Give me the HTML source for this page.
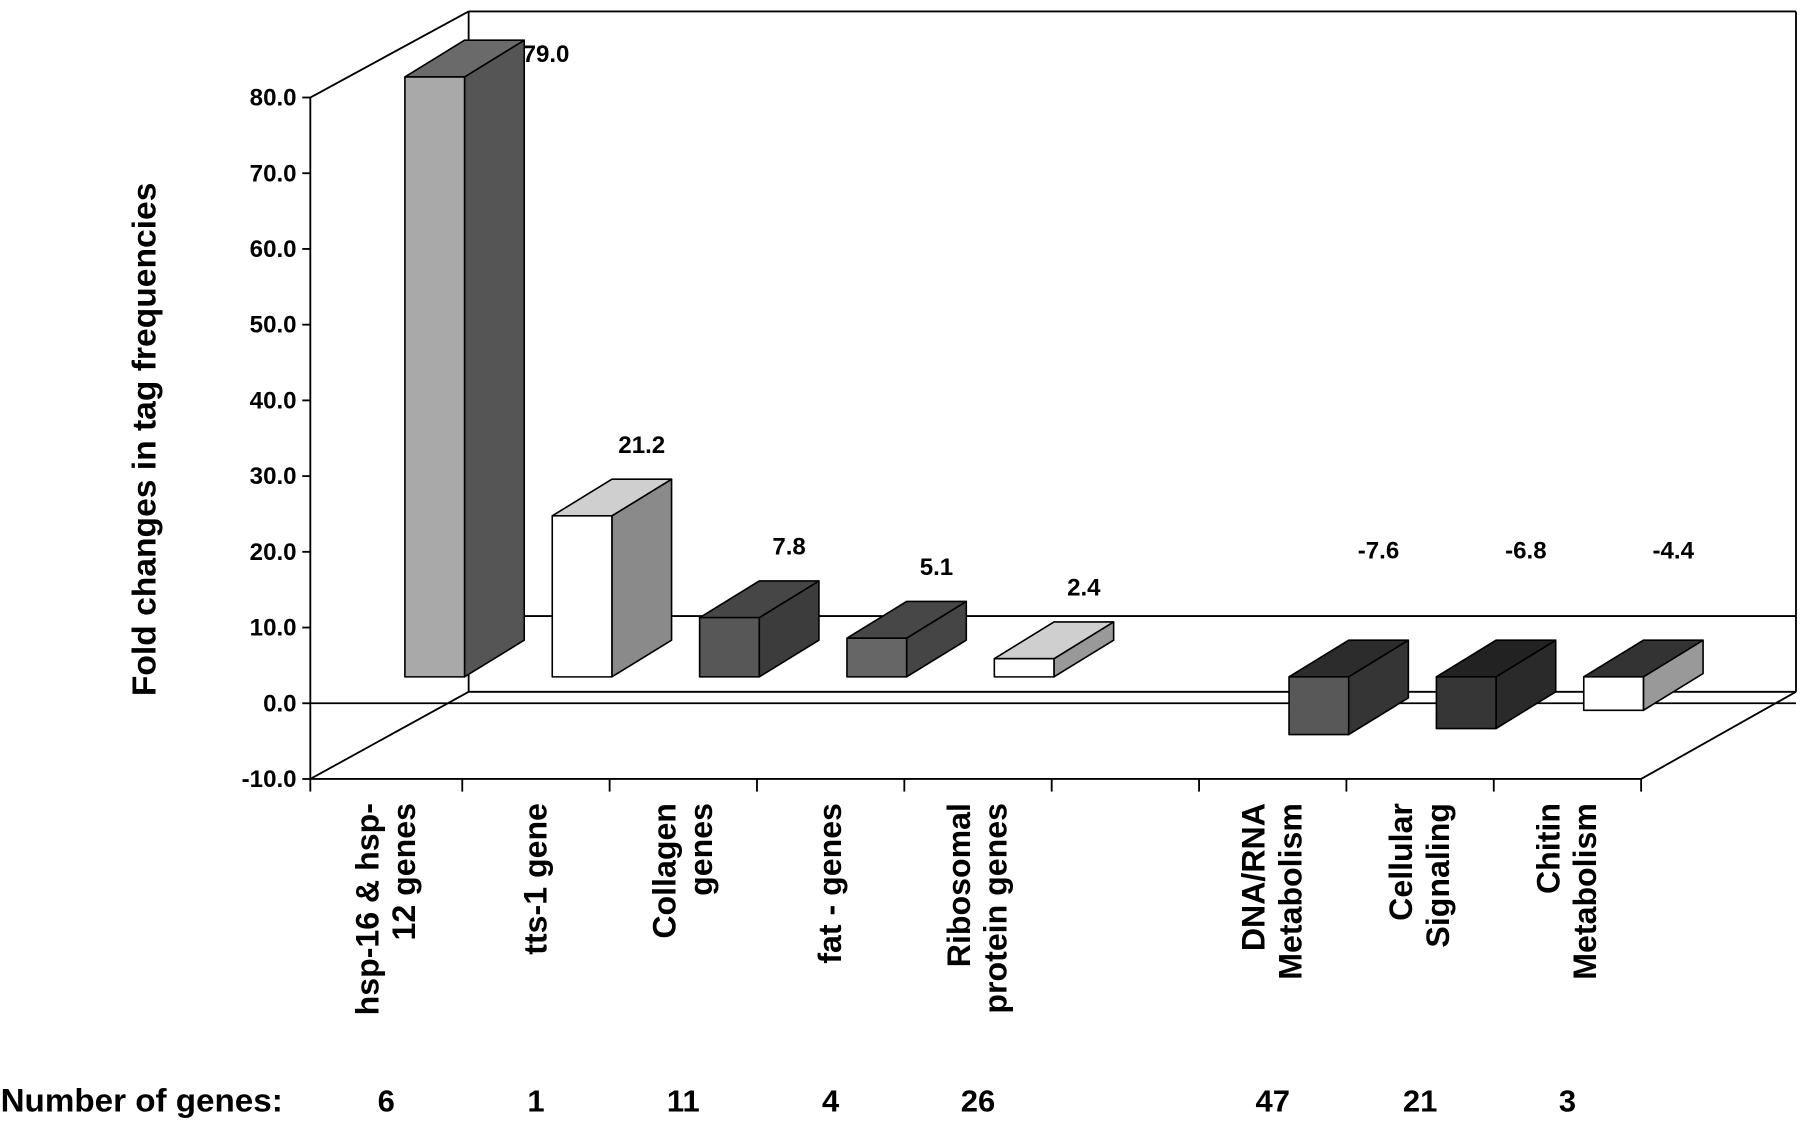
<!DOCTYPE html>
<html><head><meta charset="utf-8"><style>
html,body{margin:0;padding:0;background:#fff}
svg{display:block}
text{font-family:"Liberation Sans",Arial,sans-serif;font-weight:bold;fill:#000}
</style></head><body>
<svg id="chart" width="1800" height="1122" viewBox="0 0 1568 978" xmlns="http://www.w3.org/2000/svg">
<g id="frame" stroke="#000" stroke-width="1.6" fill="none"></g>
<g id="axis"></g>
<g id="bars"></g>
<g id="labels"></g>
<text transform="translate(135,383) rotate(-90)" text-anchor="middle" font-size="29.3">Fold changes in tag frequencies</text>
<text x="0" y="969" font-size="28" textLength="246" lengthAdjust="spacingAndGlyphs">Number of genes:</text>
</svg>
<script>
const categories=[["hsp-16 & hsp-","12 genes"],["tts-1 gene"],["Collagen","genes"],["fat - genes"],["Ribosomal","protein genes"],null,["DNA/RNA","Metabolism"],["Cellular","Signaling"],["Chitin","Metabolism"]];
const values=[79.0,21.2,7.8,5.1,2.4,null,-7.6,-6.8,-4.4];
const valueLabels=["79.0","21.2","7.8","5.1","2.4",null,"-7.6","-6.8","-4.4"];
const geneCounts=["6","1","11","4","26",null,"47","21","3"];
const yTicks=[-10,0,10,20,30,40,50,60,70,80];
const yTickLabels=["-10.0","0.0","10.0","20.0","30.0","40.0","50.0","60.0","70.0","80.0"];

const NS="http://www.w3.org/2000/svg";
function el(tag,attrs,parent){const e=document.createElementNS(NS,tag);for(const k in attrs)e.setAttribute(k,attrs[k]);parent.appendChild(e);return e;}
const X0=274,slot=(1430-274)/9;
function yFront(v){return 613-v*6.6;}
function yBar(v){return 590-v*6.62;}
function xTick(i){return i===0?270:X0+i*slot;}

const frame=document.getElementById('frame');
const segs=[[270,679,1430,679],[270,85,270,679],[270,85,408,10],[408,10,1565,10],[1565,10,1565,603],[408,10,408,603],[408,603,1565,603],[270,679,408,603],[1430,679,1565,603],[270,613,1565,613],[408,537,1565,537]];
segs.forEach(s=>{const l=el('line',{x1:s[0],y1:s[1],x2:s[2],y2:s[3]},frame);

});

const axis=document.getElementById('axis');
yTicks.forEach((t,i)=>{const y=yFront(t);
const tk=el('line',{x1:263,y1:y,x2:270,y2:y,stroke:'#000','stroke-width':1.6},axis);


const tx=el('text',{x:258,y:y+7,'text-anchor':'end','font-size':21},axis);tx.textContent=yTickLabels[i];

});
for(let i=0;i<=9;i++){const x=xTick(i);
const tk=el('line',{x1:x,y1:679,x2:x,y2:690,stroke:'#000','stroke-width':1.6},axis);

}

const cols=[["#a9a9a9","#555","#6a6a6a"],["#fff","#8a8a8a","#cfcfcf"],["#575757","#3c3c3c","#464646"],["#666","#454545","#474747"],["#fff","#999","#cfcfcf"],null,["#585858","#353535","#2c2c2c"],["#363636","#2a2a2a","#222"],["#fff","#999","#333"]];
const bars=document.getElementById('bars');
const bw=52,bdx=52,bdy=-32;
values.forEach((v,i)=>{if(v==null)return;
const xr=xTick(i+1)+2,xl=xr-bw,y0=yBar(0),yv=yBar(v);
const top=Math.min(y0,yv),bot=Math.max(y0,yv);
const g=el('g',{stroke:'#000','stroke-width':1.4,'stroke-linejoin':'round'},bars);


el('polygon',{points:`${xr},${top} ${xr+bdx},${top+bdy} ${xr+bdx},${bot+bdy} ${xr},${bot}`,fill:cols[i][1]},g);
el('polygon',{points:`${xl},${top} ${xl+bdx},${top+bdy} ${xr+bdx},${top+bdy} ${xr},${top}`,fill:cols[i][2]},g);
el('rect',{x:xl,y:top,width:bw,height:bot-top,fill:cols[i][0]},g);
const lx=(i===0)?xr+71:xl+78;
const ly=(i===0)?top-13:(v>=0?top+bdy-23:487);
const t=el('text',{x:lx,y:ly,'text-anchor':'middle','font-size':21},bars);t.textContent=valueLabels[i];

});

const labels=document.getElementById('labels');
categories.forEach((c,i)=>{if(!c)return;
const cx=(xTick(i)+xTick(i+1))/2;
const n=c.length;
c.forEach((line,j)=>{const x=cx+9+(j-(n-1)/2)*32;
const t=el('text',{transform:`translate(${x},700) rotate(-90)`,'text-anchor':'end','font-size':28},labels);t.textContent=line;

});
const g=el('text',{x:cx,y:969,'text-anchor':'middle','font-size':27},labels);g.textContent=geneCounts[i];

});
</script>
</body></html>
